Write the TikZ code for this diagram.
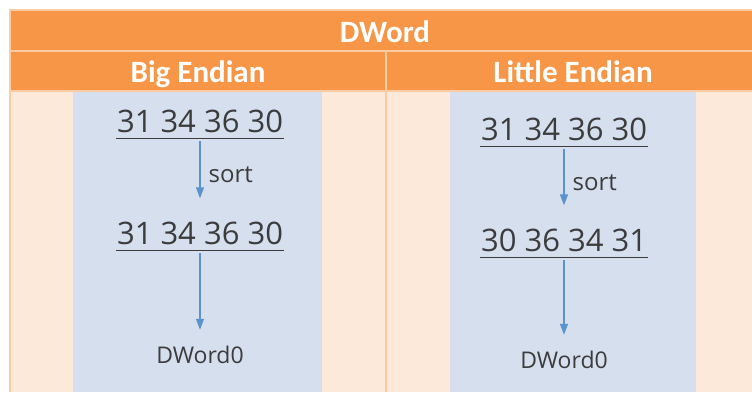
\documentclass[tikz,border=0pt]{standalone}
\usepackage{fontspec}
\setmainfont{Carlito}
\newfontfamily\numfont{Open Sans}
\usetikzlibrary{arrows.meta}

\definecolor{headOrange}{HTML}{F79646}
\definecolor{bodyPeach}{HTML}{FDE9D9}
\definecolor{panelBlue}{HTML}{D5DFEE}
\definecolor{gridLine}{HTML}{FBCBA4}
\definecolor{arrowBlue}{HTML}{5B93CC}
\definecolor{numGray}{HTML}{3C3C3C}

\begin{document}
\begin{tikzpicture}[x=1pt, y=-1pt, >={Triangle[width=8pt,length=11pt]},
    head/.style={font=\bfseries\fontsize{31}{36}\selectfont, text=white, anchor=base, inner sep=0pt},
    num/.style={font=\numfont\fontsize{31}{36}\selectfont, text=numGray, anchor=base,
        inner xsep=1pt, inner ysep=0pt, text height=22.5pt, text depth=6pt},
    res/.style={font=\numfont\fontsize{23}{28}\selectfont, text=numGray, anchor=base,
        inner sep=0pt, text height=17pt},
    uline/.style={draw=numGray, line width=1.3pt},
    flow/.style={->, draw=arrowBlue, line width=1.3pt, shorten <=3pt},
    lbl/.style={font=\numfont\fontsize{24}{28}\selectfont, text=numGray, inner sep=0pt}]
    % --- 1. Page ---
    \useasboundingbox (0,0) rectangle (752,392);
    \clip (0,0) rectangle (752,392);
    \fill[white] (0,0) rectangle (752,392);

    % --- 2. Table cells ---
    \fill[headOrange] (10,10) rectangle (760,91);
    \fill[bodyPeach] (10,91) rectangle (760,392);
    \fill[panelBlue] (73,91) rectangle (322,392);  % big endian panel
    \fill[panelBlue] (450,91) rectangle (696,392); % little endian panel

    % grid lines
    \draw[gridLine, line width=2pt] (10,392) -- (10,10) -- (760,10);
    \draw[gridLine, line width=2pt] (10,51) -- (760,51);
    \draw[gridLine, line width=2pt] (10,91) -- (760,91);
    \draw[gridLine, line width=2pt] (386,51) -- (386,392);

    % --- 3. Headings ---
    \node[head] (title) at (385,42) {DWord};
    \node[head] (bigHead) at (198,82) {Big Endian};
    \node[head] (litHead) at (573,82) {Little Endian};

    % --- 4. Big endian ---
    \node[num] (bigIn) at (200,132) {31 34 36 30};
    \node[num] (bigOut) at (200,244) {31 34 36 30};
    \node[res] (bigRes) at (200,363) {DWord0};
    \draw[uline] (bigIn.south west) -- (bigIn.south east);
    \draw[uline] (bigOut.south west) -- (bigOut.south east);
    \draw[flow, shorten >=23pt] (bigIn.south) -- node[lbl, pos=0.44, right=8pt] (bigSort) {sort} (bigOut.north);
    \draw[flow, shorten >=16pt] (bigOut.south) -- (bigRes.north);

    % --- 5. Little endian ---
    \node[num] (litIn) at (564,140) {31 34 36 30};
    \node[num] (litOut) at (564,251) {30 36 34 31};
    \node[res] (litRes) at (564,368) {DWord0};
    \draw[uline] (litIn.south west) -- (litIn.south east);
    \draw[uline] (litOut.south west) -- (litOut.south east);
    \draw[flow, shorten >=23pt] (litIn.south) -- node[lbl, pos=0.44, right=8pt] (litSort) {sort} (litOut.north);
    \draw[flow, shorten >=16pt] (litOut.south) -- (litRes.north);
\end{tikzpicture}
\end{document}
